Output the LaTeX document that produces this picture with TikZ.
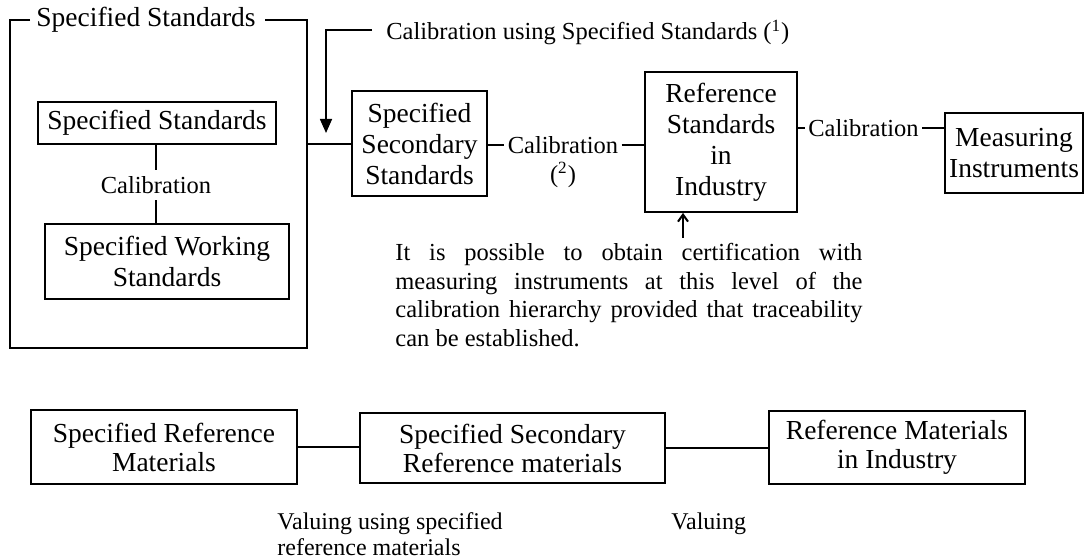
\documentclass[tikz,border=0pt]{standalone}
\usepackage{fontspec}
\setmainfont{Liberation Serif}
\usetikzlibrary{arrows.meta}
\begin{document}
\begin{tikzpicture}[x=0.5pt,y=-0.5pt,
  box/.style={draw, line width=0.9pt, align=center, inner sep=0pt, font=\fontsize{13.75}{15.5}\selectfont},
  bbox/.style={box, font=\fontsize{13.75}{14.5}\selectfont},
  btext/.style={inner sep=0pt, font=\fontsize{13.75}{15.5}\selectfont},
  lbl/.style={inner sep=1.5pt, font=\fontsize{12.25}{14.25}\selectfont},
  conn/.style={line width=0.8pt},
]
\useasboundingbox (0,0) rectangle (1085,560);

% outer frame "Specified Standards"
\draw[line width=0.9pt] (30,20) -- (10,20) -- (10,348) -- (307,348) -- (307,20) -- (265,20);
\node[btext, anchor=base] (frametitle) at (146,27) {Specified Standards};

% inner boxes
\node[box, minimum width=119pt, minimum height=21pt] (ss) at (157,123) {Specified Standards};
\node[box, minimum width=122pt, minimum height=37.5pt] (sws) at (167,261.5) {Specified Working\\Standards};
\node[lbl, inner sep=3pt] (cal1) at (156,185) {Calibration};
\draw[conn] (ss.south -| cal1) -- (cal1.north);
\draw[conn] (cal1.south) -- (sws.north -| cal1);

% top row boxes
\node[box, minimum width=67.5pt, minimum height=52.5pt] (sec) at (419.5,143.5) {Specified\\Secondary\\Standards};
\node[box, minimum width=76pt, minimum height=70pt] (ref) at (721,142) {Reference\\Standards\\in\\Industry};
\node[box, minimum width=69pt, minimum height=40pt] (meas) at (1014,153) {Measuring\\Instruments};

% frame to secondary
\coordinate (frameR) at (307,144);
\draw[conn] (frameR) -- (frameR -| sec.west);

% calibration using specified standards
\node[lbl, anchor=base west] (topcal) at (383,40) {Calibration using Specified Standards (\textsuperscript{1})};
\coordinate (tcstart) at (372,30);
\coordinate (arrtip) at (326,133);
\draw[conn, -{Triangle[length=7pt,width=6pt]}] (tcstart) -| (arrtip);

% secondary -> reference
\node[lbl] (cal2) at (563,145) {Calibration};
\node[lbl] (cal2n) at (563,175) {(\textsuperscript{2})};
\draw[conn] (cal2.west -| sec.east) -- (cal2.west);
\draw[conn] (cal2.east) -- (cal2.east -| ref.west);

% reference -> measuring
\node[lbl] (cal3) at (863.5,128) {Calibration};
\draw[conn] (cal3.west -| ref.east) -- (cal3.west);
\draw[conn] (cal3.east) -- (cal3.east -| meas.west);

% note
\coordinate (noteup) at (683,238);
\draw[line width=1pt, -{Straight Barb[length=3.5pt,width=5pt]}] (noteup) -- (noteup |- ref.south);
\node[inner sep=0pt, anchor=north west, text width=233.5pt, align=justify,
      font=\fontsize{12.25}{14.25}\selectfont] (note) at (395,243)
  {It is possible to obtain certification with\linebreak
   measuring instruments at this level of the\linebreak
   calibration hierarchy provided that traceability\linebreak
   can be established.};

% bottom row
\node[bbox, minimum width=133pt, minimum height=37pt] (brm1) at (164,447) {Specified Reference\\Materials};
\node[bbox, minimum width=152.5pt, minimum height=35pt] (brm2) at (512.5,448) {Specified Secondary\\Reference materials};
\node[bbox, minimum width=128pt, minimum height=36.5pt] (brm3) at (897,447.5) {Reference Materials\\in Industry};
\draw[conn] (brm1.east) -- (brm1.east -| brm2.west);
\draw[conn] (brm2.east) -- (brm2.east -| brm3.west);

\node[inner sep=0pt, anchor=north west, align=left, font=\fontsize{12}{13}\selectfont] (val1) at (277,512)
  {Valuing using specified\\reference materials};
\node[inner sep=0pt, anchor=north west, font=\fontsize{12}{13}\selectfont] (val2) at (671,512) {Valuing};
\end{tikzpicture}
\end{document}
